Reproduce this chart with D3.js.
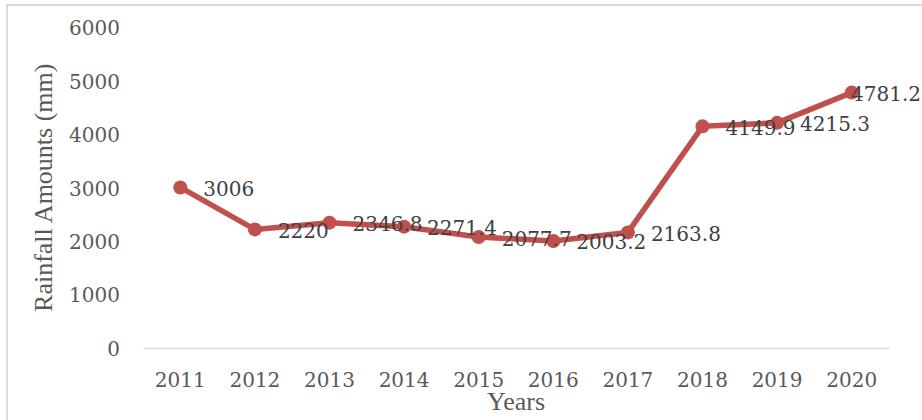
<!DOCTYPE html>
<html>
<head>
<meta charset="utf-8">
<script src="https://cdn.jsdelivr.net/npm/d3@7"></script>
<style>
  body { margin: 0; background: #fff; }
  svg { display: block; }
</style>
</head>
<body>
<svg id="rain" width="922" height="420"></svg>
<script>
const years = ["2011", "2012", "2013", "2014", "2015", "2016", "2017", "2018", "2019", "2020"];
const rainfall = [3006, 2220, 2346.8, 2271.4, 2077.7, 2003.2, 2163.8, 4149.9, 4215.3, 4781.2];
const labels = ["3006", "2220", "2346.8", "2271.4", "2077.7", "2003.2", "2163.8", "4149.9", "4215.3", "4781.2"];
const yTicks = [0, 1000, 2000, 3000, 4000, 5000, 6000];

const svg = d3.select("#rain");
const svgWidth = +svg.attr("width");
const plot = { left: 143, right: 889, top: 27.5, bottom: 348 };

const data = years.map((y, i) => ({ year: y, value: rainfall[i], label: labels[i] }));

// chart border
svg.append("rect")
  .attr("x", 7)
  .attr("y", 5)
  .attr("width", 1000)
  .attr("height", 1000)
  .attr("fill", "#fff")
  .attr("stroke", "#d9d9d9")
  .attr("stroke-width", 2);

const x = d3.scaleBand()
  .domain(years)
  .range([plot.left, plot.right]);

const y = d3.scaleLinear()
  .domain([0, 6000])
  .range([plot.bottom, plot.top]);

const cx = d => x(d.year) + x.bandwidth() / 2;

// y axis, labels only
const yAxis = svg.append("g")
  .attr("transform", `translate(${plot.left},0)`)
  .call(d3.axisLeft(y).tickValues(yTicks).tickFormat(d3.format("d")).tickSize(0).tickPadding(23));
yAxis.select(".domain").remove();
yAxis.selectAll("text")
  .attr("dy", "0.37em")
  .style("font-family", "'DejaVu Serif', serif")
  .style("font-size", "20px")
  .attr("fill", "#595959");

// x axis
const xAxis = svg.append("g")
  .attr("transform", `translate(0,${plot.bottom})`)
  .call(d3.axisBottom(x).tickSize(0));
xAxis.select(".domain")
  .attr("stroke", "#d9d9d9")
  .attr("stroke-width", 1.5);
xAxis.selectAll("text")
  .attr("y", 39)
  .attr("dy", 0)
  .style("font-family", "'DejaVu Serif', serif")
  .style("font-size", "20px")
  .attr("fill", "#595959");

// series line
const line = d3.line()
  .x(cx)
  .y(d => y(d.value));

svg.append("path")
  .datum(data)
  .attr("d", line)
  .attr("fill", "none")
  .attr("stroke", "#c0504d")
  .attr("stroke-width", 5.5)
  .attr("stroke-linejoin", "round");

svg.selectAll(".dot")
  .data(data)
  .enter()
  .append("circle")
  .attr("class", "dot")
  .attr("cx", cx)
  .attr("cy", d => y(d.value))
  .attr("r", 7)
  .attr("fill", "#c0504d");

// value labels to the right, pulled back in if they would run off the chart
svg.selectAll(".value-label")
  .data(data)
  .enter()
  .append("text")
  .attr("class", "value-label")
  .attr("y", d => y(d.value) + 8.5)
  .text(d => d.label)
  .style("font-family", "'DejaVu Serif', serif")
  .style("font-size", "20px")
  .attr("fill", "#404040")
  .attr("x", function(d) {
    const w = this.getComputedTextLength();
    return Math.min(cx(d) + 23, svgWidth - w - 1);
  });

// axis titles
svg.append("text")
  .attr("x", (plot.left + plot.right) / 2)
  .attr("y", 410)
  .attr("text-anchor", "middle")
  .style("font-family", "'Liberation Serif', serif")
  .style("font-size", "26px")
  .attr("fill", "#595959")
  .text("Years");

svg.append("text")
  .attr("transform", `translate(51.5,${(plot.top + plot.bottom) / 2}) rotate(-90)`)
  .attr("text-anchor", "middle")
  .style("font-family", "'Liberation Serif', serif")
  .style("font-size", "26px")
  .attr("fill", "#595959")
  .text("Rainfall Amounts (mm)");
</script>
</body>
</html>
